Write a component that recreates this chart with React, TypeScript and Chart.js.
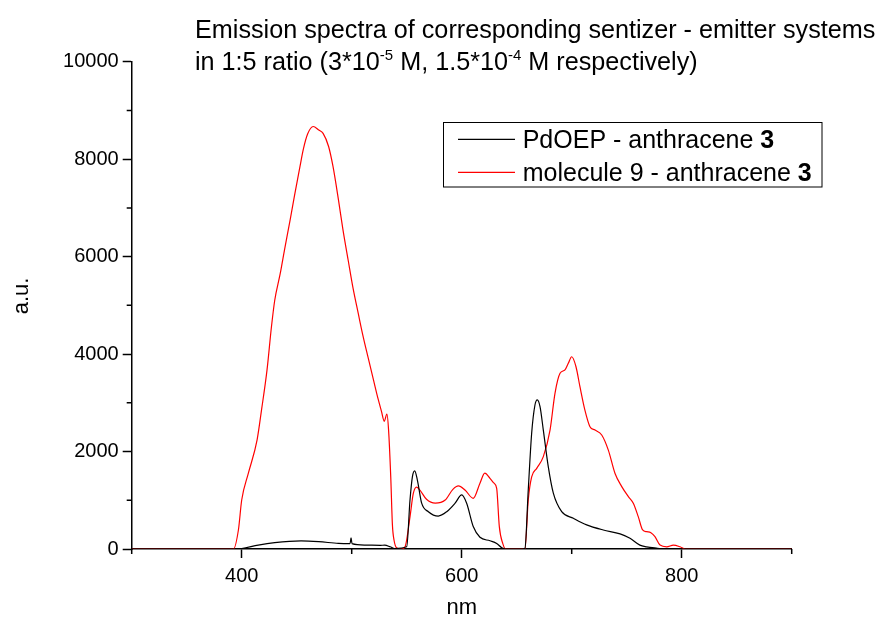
import React, { useEffect, useRef } from 'react';
import { Chart, registerables } from 'chart.js';

Chart.register(...registerables);

// ---- data (wavelength in nm, intensity in a.u.) ----
const redNm = [300, 320, 340, 360, 380, 392.5, 397, 400, 406, 414, 418, 423, 427, 430, 435, 439, 444, 448, 453, 456, 460, 465, 470, 474, 479, 483, 488, 492, 497, 501, 506, 510, 515, 520, 524, 527, 529.6, 532, 533.5, 535.5, 537, 538.5, 541, 545, 548.5, 553, 556, 559, 562, 568, 576, 585, 592, 597, 603, 610.5, 616.6, 621, 625.7, 629.4, 631.8, 634.2, 637.3, 640, 650, 657.5, 660.5, 663.6, 668.2, 674.2, 680.3, 684.8, 689.4, 693.9, 696.9, 700, 703.9, 707.5, 712, 716.6, 721.2, 727.3, 733.3, 739.4, 745.5, 751.5, 756, 760.5, 764.5, 768.2, 772, 775.7, 780.3, 786.4, 792.4, 798.5, 803, 850, 900];
const redVal = [0, 0, 0, 0, 0, 0, 390, 1005, 1550, 2240, 2850, 3670, 4550, 5100, 5650, 6150, 6750, 7250, 7850, 8200, 8520, 8670, 8600, 8530, 8260, 7850, 7160, 6560, 5900, 5380, 4830, 4400, 3920, 3450, 3080, 2830, 2620, 2770, 2450, 1480, 500, 180, 20, 0, 47, 660, 1140, 1270, 1210, 1020, 940, 1005, 1225, 1295, 1210, 1040, 1350, 1555, 1450, 1350, 1245, 460, 115, 0, 0, 0, 1005, 1480, 1655, 1895, 2440, 3195, 3605, 3675, 3810, 3945, 3740, 3330, 2850, 2510, 2440, 2340, 2030, 1550, 1280, 1075, 940, 665, 390, 355, 335, 255, 80, 45, 80, 45, 0, 0, 0];

const blackNm = [300, 394, 400, 415, 430, 454, 470, 488, 498.5, 499.4, 500.3, 512, 526, 530, 535, 539, 550, 553, 555.2, 557.3, 559.7, 563.6, 569.7, 578.7, 586.4, 594, 600, 604.5, 610.5, 616.6, 625.7, 631.8, 636.4, 640, 655, 657.5, 660.5, 663.6, 666.6, 668.7, 671.2, 674.2, 678.7, 683.3, 690.9, 701.5, 713.6, 728.7, 744, 753, 762, 768, 778, 784, 900];
const blackVal = [0, 0, 10, 80, 130, 165, 150, 115, 110, 230, 110, 80, 75, 80, 45, 10, 45, 1005, 1485, 1605, 1415, 940, 765, 675, 765, 940, 1110, 940, 460, 240, 170, 115, 25, 0, 0, 15, 1210, 2375, 2955, 3060, 2920, 2440, 1690, 1145, 765, 630, 495, 390, 310, 220, 80, 45, 15, 0, 0];

const xMajorTicks = [400, 600, 800];
const yMajorTicks = [0, 2000, 4000, 6000, 8000, 10000];
const xTitle = 'nm';
const yTitle = 'a.u.';
const titleLine1 = 'Emission spectra of corresponding sentizer - emitter systems';
const titleLine2: { t: string; sup?: boolean }[] = [
  { t: 'in 1:5 ratio (3*10' },
  { t: '-5', sup: true },
  { t: ' M, 1.5*10' },
  { t: '-4', sup: true },
  { t: ' M respectively)' },
];
const legendEntries = [
  { label: 'PdOEP - anthracene ', bold: '3', color: '#000000' },
  { label: 'molecule 9 - anthracene ', bold: '3', color: '#ff0000' },
];

const FONT = '"Liberation Sans", Arial, sans-serif';

const decorPlugin = {
  id: 'decor',
  afterDraw(chart: any) {
    const ctx = chart.ctx;
    const xs = chart.scales.x;
    const ys = chart.scales.y;
    ctx.save();
    // minor ticks
    ctx.strokeStyle = '#000';
    ctx.lineWidth = 1.5;
    ctx.beginPath();
    for (let v = 300; v <= 900; v += 100) {
      if (xMajorTicks.includes(v)) continue;
      const px = xs.getPixelForValue(v);
      ctx.moveTo(px, ys.bottom);
      ctx.lineTo(px, ys.bottom + 5);
    }
    for (let v = 1000; v <= 9000; v += 2000) {
      const py = ys.getPixelForValue(v);
      ctx.moveTo(xs.left, py);
      ctx.lineTo(xs.left - 5, py);
    }
    ctx.stroke();

    // title
    ctx.fillStyle = '#000';
    ctx.textBaseline = 'alphabetic';
    ctx.textAlign = 'left';
    ctx.font = `25.2px ${FONT}`;
    ctx.fillText(titleLine1, 195, 38);
    let x = 195;
    for (const p of titleLine2) {
      if (p.sup) {
        ctx.font = `15px ${FONT}`;
        ctx.fillText(p.t, x, 70 - 10);
      } else {
        ctx.font = `25.2px ${FONT}`;
        ctx.fillText(p.t, x, 70);
      }
      x += ctx.measureText(p.t).width;
    }

    // y axis title
    ctx.save();
    ctx.translate(22, 296);
    ctx.rotate(-Math.PI / 2);
    ctx.textAlign = 'center';
    ctx.textBaseline = 'middle';
    ctx.font = `22px ${FONT}`;
    ctx.fillText(yTitle, 0, 0);
    ctx.restore();

    // legend
    ctx.lineWidth = 1;
    ctx.strokeStyle = '#000';
    ctx.strokeRect(443.5, 122.5, 378.5, 64.5);
    legendEntries.forEach((e, i) => {
      const ly = 139.3 + i * 33;
      ctx.strokeStyle = e.color;
      ctx.lineWidth = 1.2;
      ctx.beginPath();
      ctx.moveTo(458, ly);
      ctx.lineTo(515, ly);
      ctx.stroke();
      ctx.fillStyle = '#000';
      ctx.font = `25px ${FONT}`;
      ctx.fillText(e.label, 522.7, ly + 9);
      const w = ctx.measureText(e.label).width;
      ctx.font = `bold 25px ${FONT}`;
      ctx.fillText(e.bold, 522.7 + w, ly + 9);
    });
    ctx.restore();
  },
};

export default function App() {
  const ref = useRef<HTMLCanvasElement | null>(null);
  useEffect(() => {
    if (!ref.current) return;
    const chart = new Chart(ref.current, {
      type: 'line',
      data: {
        datasets: [
          {
            label: 'PdOEP - anthracene 3',
            data: blackNm.map((n, i) => ({ x: n, y: blackVal[i] })),
            borderColor: '#000000',
            borderWidth: 1.2,
            pointRadius: 0,
            cubicInterpolationMode: 'monotone',
            fill: false,
          },
          {
            label: 'molecule 9 - anthracene 3',
            data: redNm.map((n, i) => ({ x: n, y: redVal[i] })),
            borderColor: '#ff0000',
            borderWidth: 1.2,
            pointRadius: 0,
            cubicInterpolationMode: 'monotone',
            fill: false,
          },
        ],
      },
      options: {
        responsive: false,
        animation: false,
        devicePixelRatio: 1,
        layout: { padding: { top: 61.7, right: 90.3, left: 0, bottom: 0 } },
        plugins: {
          legend: { display: false },
          title: { display: false },
          tooltip: { enabled: false },
        },
        scales: {
          x: {
            type: 'linear',
            min: 300,
            max: 900,
            afterFit: (s: any) => { s.height = 74; },
            border: { display: true, color: '#000', width: 1.5 },
            grid: {
              display: true,
              drawOnChartArea: false,
              drawTicks: true,
              tickLength: 9,
              tickWidth: 1.5,
              tickColor: (c: any) => (c.tick && xMajorTicks.includes(c.tick.value) ? '#000' : 'rgba(0,0,0,0)'),
            },
            ticks: {
              stepSize: 100,
              autoSkip: false,
              maxRotation: 0,
              color: '#000',
              padding: 6,
              font: { family: FONT, size: 20 },
              callback: (v: any) => (xMajorTicks.includes(Number(v)) ? String(v) : ''),
            },
            title: {
              display: true,
              text: xTitle,
              color: '#000',
              font: { family: FONT, size: 22 },
              padding: { top: 2, bottom: 2 },
            },
          },
          y: {
            type: 'linear',
            min: 0,
            max: 10000,
            afterFit: (s: any) => { s.width = 131.7; },
            border: { display: true, color: '#000', width: 1.5 },
            grid: {
              display: true,
              drawOnChartArea: false,
              drawTicks: true,
              tickLength: 9,
              tickWidth: 1.5,
              tickColor: (c: any) => (c.tick && yMajorTicks.includes(c.tick.value) ? '#000' : 'rgba(0,0,0,0)'),
            },
            ticks: {
              stepSize: 1000,
              autoSkip: false,
              color: '#000',
              padding: 4,
              font: { family: FONT, size: 20 },
              callback: (v: any) => (yMajorTicks.includes(Number(v)) ? String(v) : ''),
            },
            title: { display: false },
          },
        },
      },
      plugins: [decorPlugin],
    } as any);
    return () => chart.destroy();
  }, []);
  return (
    <div style={{ position: 'fixed', left: 0, top: 0, width: 882, height: 623, background: '#fff' }}>
      <canvas ref={ref} width={882} height={623} style={{ display: 'block', width: 882, height: 623 }} />
    </div>
  );
}
